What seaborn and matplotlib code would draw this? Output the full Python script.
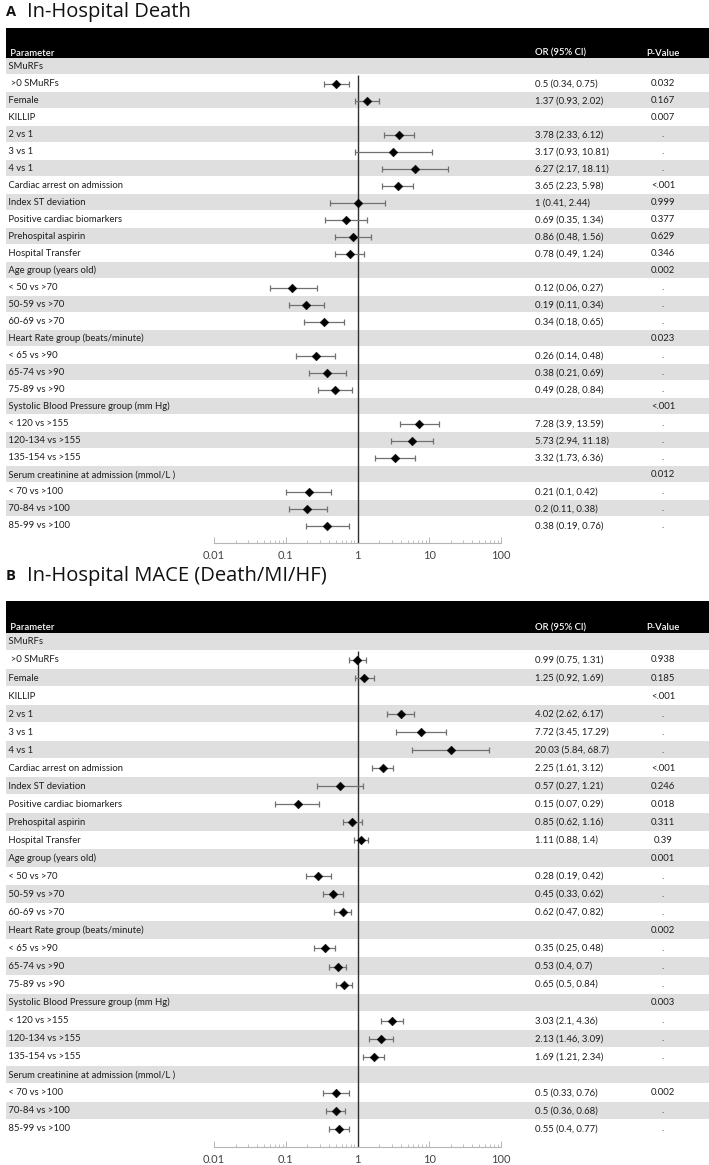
import matplotlib.pyplot as plt
import seaborn as sns
import pandas as pd
import numpy as np
from matplotlib.ticker import FixedLocator

# --- Données ---
labels = [" SMuRFs", "  >0 SMuRFs", " Female", " KILLIP", " 2 vs 1", " 3 vs 1", " 4 vs 1",
          " Cardiac arrest on admission", " Index ST deviation", " Positive cardiac biomarkers",
          " Prehospital aspirin", " Hospital Transfer", " Age group (years old)",
          " < 50 vs >70", " 50-59 vs >70", " 60-69 vs >70", " Heart Rate group (beats/minute)",
          " < 65 vs >90", " 65-74 vs >90", " 75-89 vs >90", " Systolic Blood Pressure group (mm Hg)",
          " < 120 vs >155", " 120-134 vs >155", " 135-154 vs >155",
          " Serum creatinine at admission (mmol/L )", " < 70 vs >100", " 70-84 vs >100", " 85-99 vs >100"]

death_or = [np.nan, 0.5, 1.37, np.nan, 3.78, 3.17, 6.27, 3.65, 1, 0.69, 0.86, 0.78, np.nan,
            0.12, 0.19, 0.34, np.nan, 0.26, 0.38, 0.49, np.nan, 7.28, 5.73, 3.32, np.nan, 0.21, 0.2, 0.38]
death_lo = [np.nan, 0.34, 0.93, np.nan, 2.33, 0.93, 2.17, 2.23, 0.41, 0.35, 0.48, 0.49, np.nan,
            0.06, 0.11, 0.18, np.nan, 0.14, 0.21, 0.28, np.nan, 3.9, 2.94, 1.73, np.nan, 0.1, 0.11, 0.19]
death_hi = [np.nan, 0.75, 2.02, np.nan, 6.12, 10.81, 18.11, 5.98, 2.44, 1.34, 1.56, 1.24, np.nan,
            0.27, 0.34, 0.65, np.nan, 0.48, 0.69, 0.84, np.nan, 13.59, 11.18, 6.36, np.nan, 0.42, 0.38, 0.76]
death_p = ["", "0.032", "0.167", "0.007", ".", ".", ".", "<.001", "0.999", "0.377", "0.629", "0.346",
           "0.002", ".", ".", ".", "0.023", ".", ".", ".", "<.001", ".", ".", ".", "0.012", ".", ".", "."]

mace_or = [np.nan, 0.99, 1.25, np.nan, 4.02, 7.72, 20.03, 2.25, 0.57, 0.15, 0.85, 1.11, np.nan,
           0.28, 0.45, 0.62, np.nan, 0.35, 0.53, 0.65, np.nan, 3.03, 2.13, 1.69, np.nan, 0.5, 0.5, 0.55]
mace_lo = [np.nan, 0.75, 0.92, np.nan, 2.62, 3.45, 5.84, 1.61, 0.27, 0.07, 0.62, 0.88, np.nan,
           0.19, 0.33, 0.47, np.nan, 0.25, 0.4, 0.5, np.nan, 2.1, 1.46, 1.21, np.nan, 0.33, 0.36, 0.4]
mace_hi = [np.nan, 1.31, 1.69, np.nan, 6.17, 17.29, 68.7, 3.12, 1.21, 0.29, 1.16, 1.4, np.nan,
           0.42, 0.62, 0.82, np.nan, 0.48, 0.7, 0.84, np.nan, 4.36, 3.09, 2.34, np.nan, 0.76, 0.68, 0.77]
mace_p = ["", "0.938", "0.185", "<.001", ".", ".", ".", "<.001", "0.246", "0.018", "0.311", "0.39",
          "0.001", ".", ".", ".", "0.002", ".", ".", ".", "0.003", ".", ".", ".", "", "0.002", ".", "."]

xticks = [0.01, 0.1, 1, 10, 100]
xtick_labels = ["0.01", "0.1", "1", "10", "100"]

sns.set_theme(style="white")
plt.rcParams["font.family"] = ["Lato", "DejaVu Sans"]

W, H = 709, 1165
fig = plt.figure(figsize=(W / 100, H / 100), dpi=100)

GRAY = "#dfdfdf"
TXT = "#1e1e1e"
FS = 6.8


def draw_panel(ax, ors, los, his, pvals):
    df = pd.DataFrame({"label": labels, "or": ors, "lo": los, "hi": his, "p": pvals})
    df["row"] = np.arange(len(df))
    n = len(df)

    # bandes grises + entête noire
    for i in range(0, n, 2):
        ax.axhspan(i - 0.5, i + 0.46, color=GRAY, lw=0, zorder=0)
    ax.axhspan(-2.25, -0.5, color="black", lw=0, zorder=0)

    # ligne de référence OR = 1
    ax.vlines(1, 0.5, n, color="#303030", lw=1, zorder=1)

    pts = df.dropna(subset=["or"])
    ax.errorbar(pts["or"], pts["row"], xerr=[pts["or"] - pts["lo"], pts["hi"] - pts["or"]],
                fmt="none", ecolor="#707070", elinewidth=0.9, capsize=2.2, capthick=0.9, zorder=2)
    sns.scatterplot(data=pts, x="or", y="row", marker="D", s=20, color="black",
                    edgecolor="black", linewidth=0.3, ax=ax, zorder=3, legend=False)

    ax.set_xscale("log")
    ax.set_xlim(10 ** -4.905, 10 ** 4.905)
    ax.set_ylim(n, -2.25)

    # colonnes de texte
    tr = ax.get_yaxis_transform()
    ax.text(0.003, -0.8, " Parameter", transform=tr, color="white", fontsize=FS, va="center",
            fontweight="semibold")
    ax.text(0.7525, -0.8, "OR (95% CI)", transform=tr, color="white", fontsize=FS, va="center",
            fontweight="semibold")
    ax.text(0.9346, -0.8, "P-Value", transform=tr, color="white", fontsize=FS, va="center",
            ha="center", fontweight="semibold")
    for _, r in df.iterrows():
        ax.text(0.0, r["row"], r["label"], transform=tr, color=TXT, fontsize=FS, va="center")
        if not np.isnan(r["or"]):
            ax.text(0.7525, r["row"], f"{r['or']:g} ({r['lo']:g}, {r['hi']:g})", transform=tr,
                    color=TXT, fontsize=FS, va="center")
        ax.text(0.9346, r["row"], r["p"], transform=tr, color=TXT, fontsize=FS, va="center",
                ha="center")

    # axe log
    for s in ["top", "left", "right"]:
        ax.spines[s].set_visible(False)
    ax.spines["bottom"].set_bounds(0.01, 100)
    ax.spines["bottom"].set_color("#b5b5b5")
    ax.spines["bottom"].set_linewidth(0.8)
    ax.set_xticks(xticks)
    ax.set_xticklabels(xtick_labels)
    minors = [m * 10.0 ** k for k in range(-2, 2) for m in range(2, 10)]
    ax.xaxis.set_minor_locator(FixedLocator(minors))
    ax.tick_params(axis="x", which="major", direction="in", length=4, width=0.7,
                   color="#b5b5b5", labelsize=8, labelcolor="#444444", pad=5, bottom=True)
    ax.tick_params(axis="x", which="minor", direction="in", length=2.5, width=0.6,
                   color="#b5b5b5", bottom=True)
    ax.set_yticks([])
    ax.set_xlabel("")
    ax.set_ylabel("")
    ax.patch.set_alpha(0)


ax_a = fig.add_axes([6 / W, 0.5342, 703 / W, 0.4414])
draw_panel(ax_a, death_or, death_lo, death_hi, death_p)
ax_b = fig.add_axes([6 / W, 0.0156, 703 / W, 0.4682])
draw_panel(ax_b, mace_or, mace_lo, mace_hi, mace_p)

# titres
fnt = ["Open Sans", "DejaVu Sans"]
fig.text(6 / W, 1 - 12 / H, "A", fontsize=10.5, fontweight="bold", va="center",
         family=fnt, color="#111111")
fig.text(27 / W, 1 - 12 / H, "In-Hospital Death", fontsize=14.5, va="center",
         family=fnt, color="#111111")
fig.text(6 / W, 1 - 576 / H, "B", fontsize=10.5, fontweight="bold", va="center",
         family=fnt, color="#111111")
fig.text(27 / W, 1 - 576 / H, "In-Hospital MACE (Death/MI/HF)", fontsize=14.5, va="center",
         family=fnt, color="#111111")

plt.savefig("out.png", dpi=100)
